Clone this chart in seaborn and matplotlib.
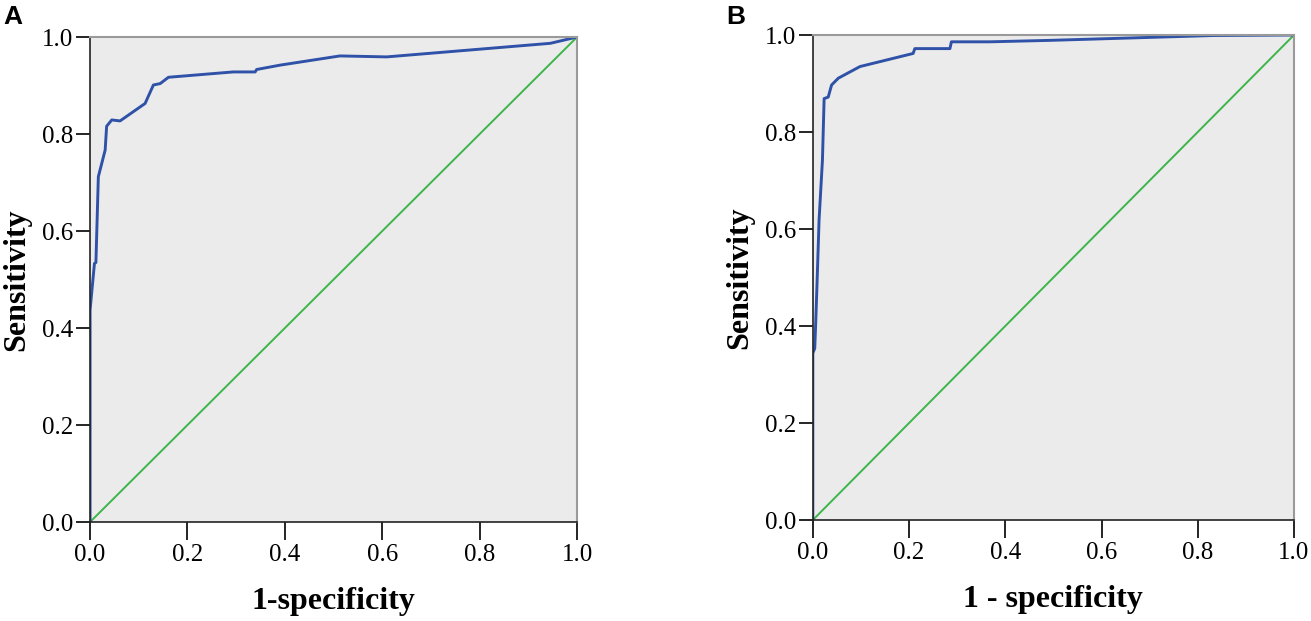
import pandas as pd
import numpy as np
import matplotlib
matplotlib.use('Agg')
import matplotlib.pyplot as plt
import seaborn as sns

# ROC curve points (1-specificity, sensitivity)
fpr_a = [0.0, 0.0, 0.009, 0.012, 0.017, 0.031, 0.034, 0.0445, 0.0616, 0.113, 0.130,
         0.144, 0.161, 0.294, 0.339, 0.342, 0.390, 0.513, 0.609, 0.945, 1.0]
tpr_a = [0.0, 0.437, 0.533, 0.535, 0.712, 0.767, 0.816, 0.829, 0.827, 0.863, 0.901,
         0.904, 0.917, 0.928, 0.928, 0.933, 0.942, 0.961, 0.959, 0.987, 1.0]

fpr_b = [0.0, 0.0, 0.004, 0.006, 0.009, 0.011, 0.013, 0.020, 0.0235, 0.032,
         0.039, 0.053, 0.098, 0.2085, 0.212, 0.285, 0.288, 0.368, 0.493, 0.832, 1.0]
tpr_b = [0.0, 0.344, 0.354, 0.406, 0.495, 0.557, 0.619, 0.742, 0.869, 0.872,
         0.897, 0.911, 0.935, 0.962, 0.972, 0.972, 0.986, 0.986, 0.989, 0.999, 1.0]

ref_line = [0.0, 1.0]
ticks = [0.0, 0.2, 0.4, 0.6, 0.8, 1.0]
tick_labels = ['0.0', '0.2', '0.4', '0.6', '0.8', '1.0']

panels = [
    ('A', fpr_a, tpr_a, '1-specificity'),
    ('B', fpr_b, tpr_b, '1 - specificity'),
]

sns.set_style('white')
plt.rcParams['font.family'] = ['Liberation Serif', 'DejaVu Serif']
plt.rcParams['text.color'] = 'black'
plt.rcParams['axes.labelcolor'] = 'black'

fig = plt.figure(figsize=(13.11, 6.21), dpi=100)
rects = [[0.0687, 0.1594, 0.3715, 0.781], [0.620, 0.1626, 0.367, 0.781]]

for (letter, fpr, tpr, xlab), rect in zip(panels, rects):
    ax = fig.add_axes(rect)
    ax.set_facecolor('#ebebeb')
    roc = pd.DataFrame({'fpr': fpr, 'tpr': tpr})
    diag = pd.DataFrame({'x': ref_line, 'y': ref_line})
    sns.lineplot(data=diag, x='x', y='y', ax=ax, color='#3cb54a', lw=1.4,
                 estimator=None, sort=False)
    sns.lineplot(data=roc, x='fpr', y='tpr', ax=ax, color='#2f52a8', lw=2.1,
                 estimator=None, sort=False)
    ax.set_xlim(0, 1)
    ax.set_ylim(0, 1)
    ax.set_xticks(ticks)
    ax.set_xticklabels(tick_labels)
    ax.set_yticks(ticks)
    ax.set_yticklabels(tick_labels)
    ax.tick_params(axis='x', direction='out', length=13, width=1.2, colors='black',
                   labelsize=18, pad=3, bottom=True)
    ax.tick_params(axis='y', direction='out', length=10, width=1.2, colors='black',
                   labelsize=18, pad=2, left=True)
    for s in ['left', 'bottom']:
        ax.spines[s].set_color('#222222')
        ax.spines[s].set_linewidth(1.2)
    for s in ['top', 'right']:
        ax.spines[s].set_color('#9a9a9a')
        ax.spines[s].set_linewidth(1.5)
    ax.set_xlabel(xlab, fontsize=23, fontweight='bold', labelpad=15, color='black')
    ax.set_ylabel('Sensitivity', fontsize=23, fontweight='bold', labelpad=8, color='black')
    ax.text(rect[0] - 0.066, 0.972, letter, transform=fig.transFigure,
            fontsize=19, fontweight='bold', family=['Liberation Sans', 'DejaVu Sans'],
            ha='left', va='center', color='black')

plt.savefig('out.png', dpi=100)
